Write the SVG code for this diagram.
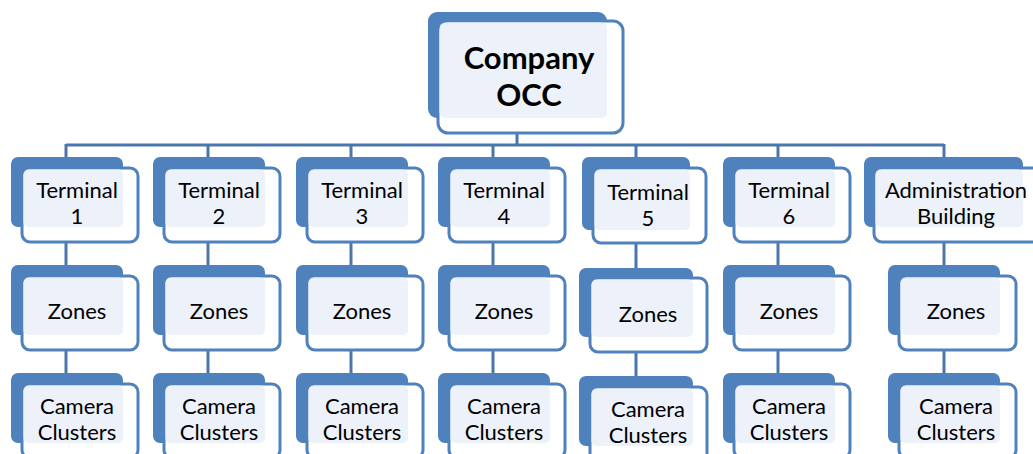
<svg xmlns="http://www.w3.org/2000/svg" width="1033" height="454" viewBox="0 0 1033 454">
<style>
.back{fill:#4F81BD}
.front{fill:#FFFFFF;stroke:#4F81BD;stroke-width:3}
.hl{fill:#EDF1F9}
.t{font-family:Lato,"Liberation Sans",sans-serif;font-size:22px;fill:#000;text-anchor:middle}
.tb{font-family:Lato,"Liberation Sans",sans-serif;font-size:31px;font-weight:bold;fill:#000;text-anchor:middle}
.ln{stroke:#4A76AC;stroke-width:3;fill:none}
.fl{stroke:#D3DDEC;stroke-width:3;fill:none}
</style>
<rect width="1033" height="454" fill="#FFFFFF"/>
<g id="connectors">
<path class="ln" d="M66,145 H944"/>
<path class="ln" d="M517,133 V146"/>
<path class="ln" d="M66,144 V157 M208,144 V157 M351,144 V157 M493,144 V157 M636,144 V157 M778,144 V157 M944,144 V158"/>
<path class="ln" d="M66,243 V265 M208,243 V265 M351,243 V265 M493,243 V265 M636,244 V268 M778,243 V265 M944,243 V265"/>
<path class="ln" d="M66,351 V373 M208,351 V373 M351,351 V373 M493,351 V373 M636,353 V376 M778,351 V373 M944,351 V373"/>
<path class="fl" d="M517,120 V131"/>
<path class="fl" d="M66,229 V241 M208,229 V241 M351,229 V241 M493,229 V241 M636,232 V242 M778,229 V241 M944,229 V241"/>
<path class="fl" d="M66,337 V349 M208,337 V349 M351,337 V349 M493,337 V349 M636,339 V351 M778,337 V349 M944,337 V349"/>
</g>
<g id="occ">
<rect class="back" x="428" y="12" width="179" height="106" rx="9"/>
<rect class="front" x="438" y="21" width="185" height="112" rx="10"/>
<rect class="hl" x="439.5" y="22.5" width="167.5" height="95.5" rx="6"/>
<text class="tb" x="529" y="69">Company</text>
<text class="tb" x="529" y="106">OCC</text>
</g>
<g id="terminal1">
<rect class="back" x="11" y="157" width="112" height="70" rx="7"/>
<rect class="front" x="22" y="168" width="116" height="74" rx="8"/>
<rect class="hl" x="23.5" y="169.5" width="99.5" height="57.5" rx="5"/>
<text class="t" x="77" y="198">Terminal</text><text class="t" x="77" y="224">1</text>
</g>
<g id="terminal2">
<rect class="back" x="153" y="157" width="112" height="70" rx="7"/>
<rect class="front" x="164" y="168" width="116" height="74" rx="8"/>
<rect class="hl" x="165.5" y="169.5" width="99.5" height="57.5" rx="5"/>
<text class="t" x="219" y="198">Terminal</text><text class="t" x="219" y="224">2</text>
</g>
<g id="terminal3">
<rect class="back" x="296" y="157" width="112" height="70" rx="7"/>
<rect class="front" x="307" y="168" width="116" height="74" rx="8"/>
<rect class="hl" x="308.5" y="169.5" width="99.5" height="57.5" rx="5"/>
<text class="t" x="362" y="198">Terminal</text><text class="t" x="362" y="224">3</text>
</g>
<g id="terminal4">
<rect class="back" x="438" y="157" width="112" height="70" rx="7"/>
<rect class="front" x="449" y="168" width="116" height="74" rx="8"/>
<rect class="hl" x="450.5" y="169.5" width="99.5" height="57.5" rx="5"/>
<text class="t" x="504" y="198">Terminal</text><text class="t" x="504" y="224">4</text>
</g>
<g id="terminal5">
<rect class="back" x="582" y="157" width="108" height="73" rx="7"/>
<rect class="front" x="593" y="168" width="113" height="75" rx="8"/>
<rect class="hl" x="594.5" y="169.5" width="95.5" height="60.5" rx="5"/>
<text class="t" x="648" y="200">Terminal</text><text class="t" x="648" y="226">5</text>
</g>
<g id="terminal6">
<rect class="back" x="723" y="157" width="112" height="70" rx="7"/>
<rect class="front" x="734" y="168" width="116" height="74" rx="8"/>
<rect class="hl" x="735.5" y="169.5" width="99.5" height="57.5" rx="5"/>
<text class="t" x="789" y="198">Terminal</text><text class="t" x="789" y="224">6</text>
</g>
<g id="admin">
<rect class="back" x="864" y="157" width="159" height="70" rx="7"/>
<rect class="front" x="874" y="168" width="168" height="74" rx="8"/>
<rect class="hl" x="875.5" y="169.5" width="147.5" height="57.5" rx="5"/>
<text class="t" x="956" y="198">Administration</text><text class="t" x="956" y="224">Building</text>
</g>
<g id="zones1">
<rect class="back" x="11" y="265" width="112" height="70" rx="7"/>
<rect class="front" x="22" y="276" width="116" height="74" rx="8"/>
<rect class="hl" x="23.5" y="277.5" width="99.5" height="57.5" rx="5"/>
<text class="t" x="77" y="319">Zones</text>
</g>
<g id="zones2">
<rect class="back" x="153" y="265" width="112" height="70" rx="7"/>
<rect class="front" x="164" y="276" width="116" height="74" rx="8"/>
<rect class="hl" x="165.5" y="277.5" width="99.5" height="57.5" rx="5"/>
<text class="t" x="219" y="319">Zones</text>
</g>
<g id="zones3">
<rect class="back" x="296" y="265" width="112" height="70" rx="7"/>
<rect class="front" x="307" y="276" width="116" height="74" rx="8"/>
<rect class="hl" x="308.5" y="277.5" width="99.5" height="57.5" rx="5"/>
<text class="t" x="362" y="319">Zones</text>
</g>
<g id="zones4">
<rect class="back" x="438" y="265" width="112" height="70" rx="7"/>
<rect class="front" x="449" y="276" width="116" height="74" rx="8"/>
<rect class="hl" x="450.5" y="277.5" width="99.5" height="57.5" rx="5"/>
<text class="t" x="504" y="319">Zones</text>
</g>
<g id="zones5">
<rect class="back" x="579" y="268" width="114" height="69" rx="7"/>
<rect class="front" x="590" y="278" width="117" height="74" rx="8"/>
<rect class="hl" x="591.5" y="279.5" width="101.5" height="57.5" rx="5"/>
<text class="t" x="648" y="322">Zones</text>
</g>
<g id="zones6">
<rect class="back" x="723" y="265" width="112" height="70" rx="7"/>
<rect class="front" x="734" y="276" width="116" height="74" rx="8"/>
<rect class="hl" x="735.5" y="277.5" width="99.5" height="57.5" rx="5"/>
<text class="t" x="789" y="319">Zones</text>
</g>
<g id="zones7">
<rect class="back" x="888" y="265" width="112" height="70" rx="7"/>
<rect class="front" x="899" y="276" width="117" height="74" rx="8"/>
<rect class="hl" x="900.5" y="277.5" width="99.5" height="57.5" rx="5"/>
<text class="t" x="956" y="319">Zones</text>
</g>
<g id="camera1">
<rect class="back" x="11" y="373" width="112" height="70" rx="7"/>
<rect class="front" x="22" y="384" width="116" height="74" rx="8"/>
<rect class="hl" x="23.5" y="385.5" width="99.5" height="57.5" rx="5"/>
<text class="t" x="77" y="414">Camera</text><text class="t" x="77" y="440">Clusters</text>
</g>
<g id="camera2">
<rect class="back" x="153" y="373" width="112" height="70" rx="7"/>
<rect class="front" x="164" y="384" width="116" height="74" rx="8"/>
<rect class="hl" x="165.5" y="385.5" width="99.5" height="57.5" rx="5"/>
<text class="t" x="219" y="414">Camera</text><text class="t" x="219" y="440">Clusters</text>
</g>
<g id="camera3">
<rect class="back" x="296" y="373" width="112" height="70" rx="7"/>
<rect class="front" x="307" y="384" width="116" height="74" rx="8"/>
<rect class="hl" x="308.5" y="385.5" width="99.5" height="57.5" rx="5"/>
<text class="t" x="362" y="414">Camera</text><text class="t" x="362" y="440">Clusters</text>
</g>
<g id="camera4">
<rect class="back" x="438" y="373" width="112" height="70" rx="7"/>
<rect class="front" x="449" y="384" width="116" height="74" rx="8"/>
<rect class="hl" x="450.5" y="385.5" width="99.5" height="57.5" rx="5"/>
<text class="t" x="504" y="414">Camera</text><text class="t" x="504" y="440">Clusters</text>
</g>
<g id="camera5">
<rect class="back" x="579" y="376" width="114" height="70" rx="7"/>
<rect class="front" x="590" y="387" width="117" height="74" rx="8"/>
<rect class="hl" x="591.5" y="388.5" width="101.5" height="57.5" rx="5"/>
<text class="t" x="648" y="417">Camera</text><text class="t" x="648" y="443">Clusters</text>
</g>
<g id="camera6">
<rect class="back" x="723" y="373" width="112" height="70" rx="7"/>
<rect class="front" x="734" y="384" width="116" height="74" rx="8"/>
<rect class="hl" x="735.5" y="385.5" width="99.5" height="57.5" rx="5"/>
<text class="t" x="789" y="414">Camera</text><text class="t" x="789" y="440">Clusters</text>
</g>
<g id="camera7">
<rect class="back" x="888" y="373" width="112" height="70" rx="7"/>
<rect class="front" x="899" y="384" width="117" height="74" rx="8"/>
<rect class="hl" x="900.5" y="385.5" width="99.5" height="57.5" rx="5"/>
<text class="t" x="956" y="414">Camera</text><text class="t" x="956" y="440">Clusters</text>
</g>
</svg>
